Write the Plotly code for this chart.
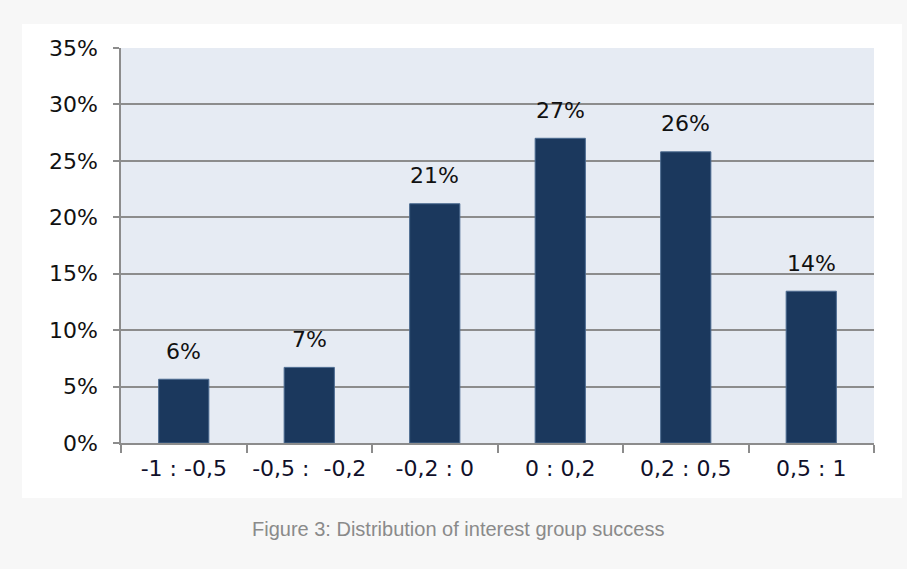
import plotly.graph_objects as go

categories = ["-1 : -0,5", "-0,5 :  -0,2", "-0,2 : 0", "0 : 0,2", "0,2 : 0,5", "0,5 : 1"]
values = [5.65, 6.7, 21.2, 27.0, 25.8, 13.45]
labels = ["6%", "7%", "21%", "27%", "26%", "14%"]
y_ticks = [0, 5, 10, 15, 20, 25, 30, 35]
y_tick_text = ["0%", "5%", "10%", "15%", "20%", "25%", "30%", "35%"]
caption = "Figure 3: Distribution of interest group success"

W, H = 907, 569
L, R, T, B = 121, 874, 48, 443
pw, ph = R - L, B - T

def px(x):
    return (x - L) / pw

def py(y):
    return (B - y) / ph

fig = go.Figure()
fig.add_trace(go.Bar(
    x=categories, y=values,
    marker=dict(color="#1b385d", line=dict(color="#4b6a90", width=1)),
    hoverinfo="skip",
))

for c, v, t in zip(categories, values, labels):
    fig.add_annotation(x=c, y=v, text=t, showarrow=False, yanchor="middle", yshift=28,
                       font=dict(family="DejaVu Sans", size=22, color="#111111"))

fig.add_annotation(xref="paper", yref="paper", x=px(458), y=py(529), text=caption,
                   showarrow=False, xanchor="center", yanchor="middle",
                   font=dict(family="Liberation Sans, Arial", size=20, color="#8a8a8a"))

# white chart box and plot area fill
fig.add_shape(type="rect", xref="paper", yref="paper", layer="below",
              x0=px(22), x1=px(902), y0=py(498), y1=py(24),
              fillcolor="white", line=dict(width=0))
fig.add_shape(type="rect", xref="paper", yref="paper", layer="below",
              x0=0, x1=1, y0=0, y1=1,
              fillcolor="#e6ebf3", line=dict(width=0))

fig.update_layout(
    width=W, height=H,
    margin=dict(l=L, r=W - R, t=T, b=H - B),
    paper_bgcolor="#f7f7f7",
    plot_bgcolor="rgba(0,0,0,0)",
    bargap=0.6,
    showlegend=False,
    font=dict(family="DejaVu Sans", size=22, color="#111111"),
)
fig.update_xaxes(
    type="category", tickson="boundaries", ticks="outside", ticklen=8, tickwidth=1.5,
    tickcolor="#8c8c8c", showline=True, linecolor="#8c8c8c", linewidth=1.5,
    showgrid=False, ticklabelstandoff=5,
    tickfont=dict(family="DejaVu Sans", size=22, color="#10102a"),
)
fig.update_yaxes(
    range=[0, 35], tickvals=y_ticks, ticktext=y_tick_text,
    ticks="outside", ticklen=6, tickwidth=1.5, tickcolor="#8c8c8c",
    showline=True, linecolor="#8c8c8c", linewidth=1.5,
    showgrid=True, gridcolor="#8c8c8c", gridwidth=1.5, zeroline=False,
    ticklabelstandoff=11,
    tickfont=dict(family="DejaVu Sans", size=22, color="#111111"),
)

fig.write_html("out.html")
